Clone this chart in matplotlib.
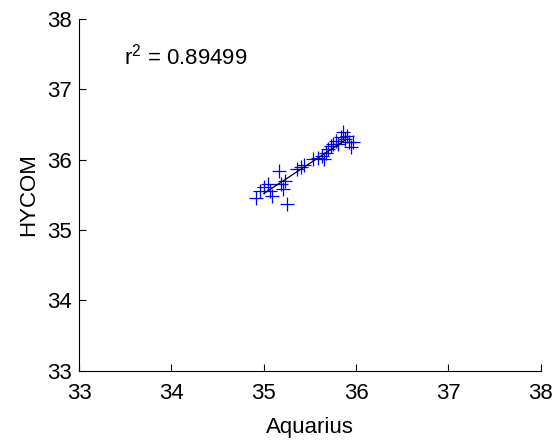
import matplotlib
matplotlib.use("Agg")
import matplotlib.pyplot as plt
import numpy as np

plt.rcParams["font.family"] = ["Liberation Sans", "DejaVu Sans"]
plt.rcParams["mathtext.fontset"] = "custom"
plt.rcParams["mathtext.rm"] = "Liberation Sans"
plt.rcParams["mathtext.it"] = "Liberation Sans"

aquarius = [34.92, 34.96, 35.00, 35.05, 35.07, 35.09, 35.17, 35.19, 35.21, 35.23,
            35.25, 35.36, 35.40, 35.44, 35.53, 35.59, 35.63, 35.67, 35.65, 35.69,
            35.73, 35.75, 35.78, 35.80, 35.84, 35.86, 35.88, 35.90, 35.92, 35.97,
            35.94]
hycom = [35.46, 35.56, 35.61, 35.65, 35.56, 35.49, 35.84, 35.65, 35.58, 35.70,
         35.37, 35.87, 35.89, 35.92, 36.01, 36.03, 36.06, 36.10, 36.01, 36.15,
         36.20, 36.22, 36.27, 36.22, 36.32, 36.39, 36.29, 36.34, 36.25, 36.25,
         36.18]
r2_text = "0.89499"

x = np.array(aquarius)
y = np.array(hycom)
slope, intercept = np.polyfit(x, y, 1)
xf = np.array([35.0, 35.88])

fig = plt.figure(figsize=(5.57, 4.41), dpi=100)
ax = fig.add_axes([0.142, 0.159, 0.829, 0.798])

ax.plot(x, y, "+", color="blue", markersize=10.5, markeredgewidth=0.9)
ax.plot(xf, slope * xf + intercept, color="black", linewidth=0.9)

ax.set_xlim(33, 38)
ax.set_ylim(33, 38)
ax.set_xticks(range(33, 39))
ax.set_yticks(range(33, 39))
ax.spines["top"].set_visible(False)
ax.spines["right"].set_visible(False)
ax.tick_params(direction="in", length=5, labelsize=16)
ax.tick_params(axis="x", pad=9)
ax.tick_params(axis="y", pad=5)
ax.set_xlabel("Aquarius", fontsize=16, labelpad=9)
ax.set_ylabel("HYCOM", fontsize=16, labelpad=6)

ax.text(33.49, 37.47, r"$\mathrm{r}^{2}$ = " + r2_text, fontsize=16, va="center")

plt.savefig("out.png", dpi=100)
